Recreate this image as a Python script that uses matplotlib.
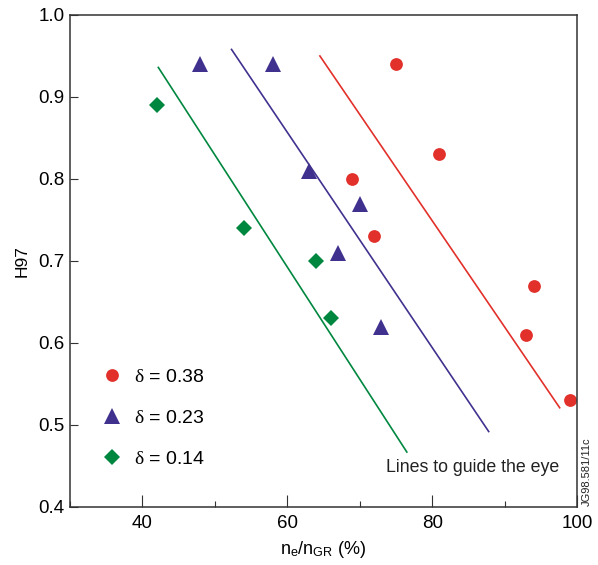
import matplotlib
matplotlib.use("Agg")
import matplotlib.pyplot as plt
from matplotlib.ticker import MultipleLocator

plt.rcParams["font.family"] = ["Liberation Sans", "DejaVu Sans"]
plt.rcParams["mathtext.fontset"] = "custom"
plt.rcParams["mathtext.rm"] = "Liberation Sans"
plt.rcParams["mathtext.it"] = "Liberation Serif"

# data
ne_038 = [75, 81, 69, 72, 94, 93, 99]
h97_038 = [0.94, 0.83, 0.80, 0.73, 0.67, 0.61, 0.53]
ne_023 = [48, 58, 63, 70, 67, 73]
h97_023 = [0.94, 0.94, 0.81, 0.77, 0.71, 0.62]
ne_014 = [42, 54, 64, 66]
h97_014 = [0.89, 0.74, 0.70, 0.63]

# guide lines (start, end)
guide_038_x = [64.5, 97.6]
guide_038_y = [0.950, 0.521]
guide_023_x = [52.3, 87.8]
guide_023_y = [0.958, 0.492]
guide_014_x = [42.2, 76.5]
guide_014_y = [0.936, 0.467]

red = "#E2302A"
blue = "#41318F"
green = "#00873F"

fig = plt.figure(figsize=(5.98, 5.65), dpi=100)
ax = fig.add_axes([0.117, 0.1027, 0.848, 0.8708])

ax.plot(guide_038_x, guide_038_y, color=red, lw=1.2)
ax.plot(guide_023_x, guide_023_y, color=blue, lw=1.2)
ax.plot(guide_014_x, guide_014_y, color=green, lw=1.2)

ax.plot(ne_038, h97_038, "o", color=red, ms=9.2, mew=0, label=r"$\delta$ = 0.38")
ax.plot(ne_023, h97_023, "^", color=blue, ms=11, mew=0, label=r"$\delta$ = 0.23")
ax.plot(ne_014, h97_014, "D", color=green, ms=8, mew=0, label=r"$\delta$ = 0.14")

ax.set_xlim(30, 100)
ax.set_ylim(0.4, 1.0)
ax.xaxis.set_major_locator(MultipleLocator(20))
ax.xaxis.set_minor_locator(MultipleLocator(10))
ax.yaxis.set_major_locator(MultipleLocator(0.1))
ax.tick_params(axis="x", which="major", direction="in", length=8.5, width=0.8,
               labelsize=13.5, pad=6, color="#333333")
ax.tick_params(axis="x", which="minor", direction="in", length=4.5, width=0.8,
               color="#333333")
ax.tick_params(axis="y", which="major", direction="in", length=6, width=0.8,
               labelsize=13.5, pad=4, color="#333333")
for s in ax.spines.values():
    s.set_linewidth(1.1)
    s.set_color("#333333")

ax.set_xlabel(r"n$_\mathrm{e}$/n$_\mathrm{GR}$ (%)", fontsize=13, labelpad=5)
ax.set_ylabel("H97", fontsize=12.5, labelpad=6)

leg = ax.legend(loc="lower left", bbox_to_anchor=(0.045, 0.06), frameon=False,
                fontsize=14, handlelength=1.0, handletextpad=0.6,
                labelspacing=1.2, numpoints=1, borderpad=0)

ax.text(0.795, 0.081, "Lines to guide the eye", transform=ax.transAxes,
        ha="center", va="center", fontsize=12.8, color="#222222")
fig.text(0.981, 0.165, "JG98.581/11c", rotation=90, ha="center", va="center",
         fontsize=8, color="#222222")

fig.savefig("out.png", dpi=100)
